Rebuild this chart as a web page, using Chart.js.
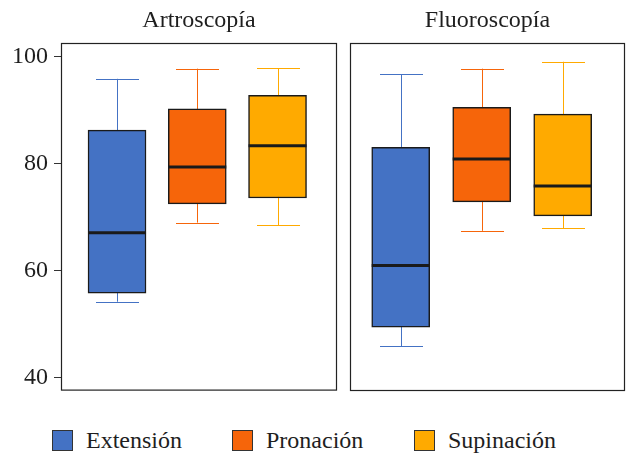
<!DOCTYPE html>
<html>
<head>
<meta charset="utf-8">
<script src="https://cdn.jsdelivr.net/npm/chart.js@4"></script>
<style>
  body { margin: 0; background: #fff; width: 627px; height: 453px; position: relative; overflow: hidden; font-family: "Liberation Serif", serif; }
  #c1 { position: absolute; left: 0; top: 0; }
  #c2 { position: absolute; left: 340px; top: 0; }
  .leg { position: absolute; top: 428px; height: 24px; display: flex; align-items: center; font-size: 24px; color: #1e1e1e; }
  .sq { width: 21px; height: 21px; border: 1px solid #333; box-sizing: border-box; margin-right: 13px; }
</style>
</head>
<body>
<canvas id="c1" width="340" height="411"></canvas>
<canvas id="c2" width="287" height="400"></canvas>
<div class="leg" style="left:52px"><div class="sq" style="background:#4472C4"></div>Extensión</div>
<div class="leg" style="left:232px"><div class="sq" style="background:#F6650A"></div>Pronación</div>
<div class="leg" style="left:414px"><div class="sq" style="background:#FFAA00"></div>Supinación</div>
<script>
// Datos
const categorias = ['Extensión', 'Pronación', 'Supinación'];
const paneles = ['Artroscopía', 'Fluoroscopía'];
const colores = ['#4472C4', '#F6650A', '#FFAA00'];
const yTicks = [40, 60, 80, 100];

// Artroscopía
const minArtro = [54.2, 69.0, 68.5];
const q1Artro = [55.8, 72.5, 73.6];
const medArtro = [67.1, 79.4, 83.4];
const q3Artro = [86.3, 90.3, 92.8];
const maxArtro = [95.9, 97.8, 97.9];

// Fluoroscopía
const minFluoro = [45.9, 67.5, 68.0];
const q1Fluoro = [49.5, 72.9, 70.3];
const medFluoro = [61.0, 80.9, 75.9];
const q3Fluoro = [83.1, 90.6, 89.3];
const maxFluoro = [96.8, 97.8, 99.1];

const fuente = '"Liberation Serif", serif';

// Bigotes, medianas y borde del panel
const cajaPlugin = {
  id: 'caja',
  beforeDatasetsDraw(chart, args, opts) {
    const ctx = chart.ctx;
    const x = chart.scales.x, y = chart.scales.y;
    ctx.save();
    ctx.lineWidth = 1;
    categorias.forEach((c, i) => {
      const px = Math.round(x.getPixelForValue(i + 1)) + 0.5;
      ctx.strokeStyle = colores[i];
      ctx.beginPath();
      ctx.moveTo(px, y.getPixelForValue(opts.min[i]));
      ctx.lineTo(px, y.getPixelForValue(opts.max[i]));
      [opts.min[i], opts.max[i]].forEach(v => {
        const py = Math.round(y.getPixelForValue(v)) + 0.5;
        ctx.moveTo(px - 21.5, py);
        ctx.lineTo(px + 21.5, py);
      });
      ctx.stroke();
    });
    ctx.restore();
  },
  afterDatasetsDraw(chart, args, opts) {
    const ctx = chart.ctx;
    const x = chart.scales.x, y = chart.scales.y;
    const a = chart.chartArea;
    ctx.save();
    ctx.strokeStyle = '#1a1a1a';
    ctx.lineWidth = 3;
    categorias.forEach((c, i) => {
      const px = x.getPixelForValue(i + 1);
      const py = y.getPixelForValue(opts.med[i]);
      ctx.beginPath();
      ctx.moveTo(px - 29, py);
      ctx.lineTo(px + 29, py);
      ctx.stroke();
    });
    ctx.lineWidth = 1.2;
    ctx.strokeStyle = '#222';
    ctx.strokeRect(a.left + 0.5, a.top + 0.5, a.right - a.left - 1, a.bottom - a.top - 1);
    ctx.restore();
  }
};

function crearPanel(id, titulo, q1, q3, min, max, med, xmin, xmax, conEje, padding) {
  return new Chart(document.getElementById(id), {
    type: 'bar',
    data: {
      datasets: [{
        data: categorias.map((c, i) => ({ x: i + 1, y: [q1[i], q3[i]] })),
        backgroundColor: colores,
        borderColor: '#1a1a1a',
        borderWidth: 1.5,
        borderSkipped: false,
        barThickness: 58
      }]
    },
    options: {
      responsive: false,
      animation: false,
      layout: { padding: padding },
      plugins: {
        legend: { display: false },
        tooltip: { enabled: false },
        title: {
          display: true,
          text: titulo,
          fullSize: false,
          color: '#1e1e1e',
          font: { family: fuente, size: 24, weight: 'normal', lineHeight: 1.2 },
          padding: { top: 6, bottom: 8.2 }
        },
        caja: { min: min, max: max, med: med }
      },
      scales: {
        x: { type: 'linear', min: xmin, max: xmax, offset: false, display: false },
        y: {
          min: 37.57,
          max: 102.6,
          display: conEje,
          afterBuildTicks: s => { s.ticks = yTicks.map(v => ({ value: v })); },
          afterFit: s => { if (conEje) s.width = 61; },
          border: { display: false },
          grid: { drawOnChartArea: false, tickLength: 7, color: '#333' },
          ticks: { color: '#1e1e1e', padding: 6, font: { family: fuente, size: 24 } }
        }
      }
    },
    plugins: [cajaPlugin]
  });
}

crearPanel('c1', paneles[0], q1Artro, q3Artro, minArtro, maxArtro, medArtro, 0.302, 3.741, true, { left: 0, right: 3, top: 0, bottom: 9 });
crearPanel('c2', paneles[1], q1Fluoro, q3Fluoro, minFluoro, maxFluoro, medFluoro, 0.374, 3.769, false, { left: 10, right: 2, top: 0, bottom: 9 });
</script>
</body>
</html>
